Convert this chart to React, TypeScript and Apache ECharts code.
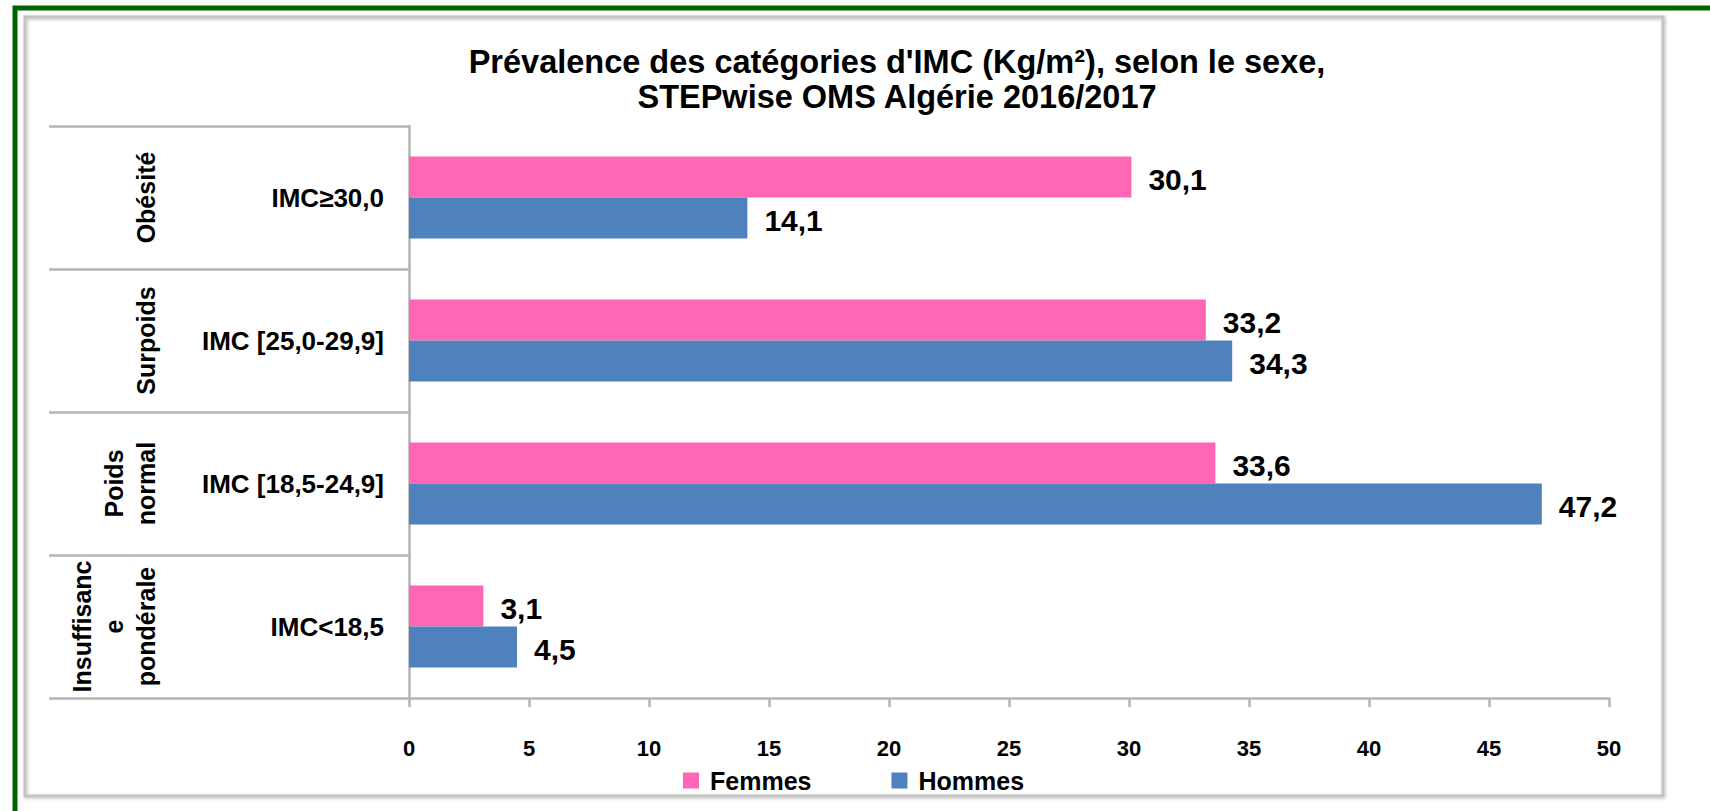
import React, { useEffect, useRef } from "react";
import * as echarts from "echarts";

const innerCategories = ["IMC<18,5", "IMC [18,5-24,9]", "IMC [25,0-29,9]", "IMC≥30,0"];
const outerCategories = ["Insuffisanc\ne\npondérale", "Poids\nnormal", "Surpoids", "Obésité"];
const femmes = [3.1, 33.6, 33.2, 30.1];
const hommes = [4.5, 47.2, 34.3, 14.1];
const titleLines = ["Prévalence des catégories d'IMC (Kg/m²), selon le sexe,", "STEPwise OMS Algérie 2016/2017"];

const FONT = "'Liberation Sans', Arial, sans-serif";
const GRAY = "#b5b5b5";

export default function App() {
  const ref = useRef<HTMLDivElement>(null);
  useEffect(() => {
    if (!ref.current) return;
    const chart = echarts.init(ref.current, null, { renderer: "svg" });
    const label = {
      show: true,
      position: "right",
      distance: 17,
      offset: [0, 2],
      fontFamily: FONT,
      fontWeight: "bold",
      fontSize: 30,
      color: "#000",
      formatter: (p: any) => String(p.value).replace(".", ","),
    };
    chart.setOption({
      animation: false,
      backgroundColor: "#fff",
      title: {
        text: titleLines.join("\n"),
        left: 897,
        top: 44,
        padding: 0,
        textAlign: "center",
        textStyle: { fontFamily: FONT, fontWeight: "bold", fontSize: 32.5, lineHeight: 35, color: "#000" },
      },
      legend: {
        left: 678,
        top: 763,
        itemWidth: 16,
        itemHeight: 16,
        itemGap: 80,
        icon: "rect",
        data: ["Femmes", "Hommes"],
        textStyle: { fontFamily: FONT, fontWeight: "bold", fontSize: 25, color: "#000", padding: [0, 0, 0, 6] },
      },
      graphic: [
        {
          type: "rect",
          silent: true,
          shape: { x: 15, y: 8, width: 1720, height: 820 },
          style: { fill: "none", stroke: "#006400", lineWidth: 5 },
          z: 100,
        },
        {
          type: "rect",
          silent: true,
          shape: { x: 25, y: 17, width: 1638, height: 779 },
          style: { fill: "none", stroke: "#c4c4c4", lineWidth: 3, shadowBlur: 3, shadowColor: "rgba(0,0,0,0.25)", shadowOffsetX: 1, shadowOffsetY: 1 },
          z: 100,
        },
      ],
      grid: { left: 409, right: 101, top: 126, bottom: 113, containLabel: false },
      xAxis: {
        type: "value",
        min: 0,
        max: 50,
        interval: 5,
        splitLine: { show: false },
        axisLine: { show: true, lineStyle: { color: GRAY, width: 2.5 } },
        axisTick: { show: true, length: 9, lineStyle: { color: GRAY, width: 2.5 } },
        axisLabel: { margin: 39, fontFamily: FONT, fontWeight: "bold", fontSize: 22, color: "#000" },
      },
      yAxis: [
        {
          type: "category",
          data: innerCategories,
          position: "left",
          axisLine: { show: true, lineStyle: { color: GRAY, width: 2.5 } },
          axisTick: { show: true, length: 360, interval: 0, lineStyle: { color: GRAY, width: 2.5 } },
          axisLabel: { margin: 25, fontFamily: FONT, fontWeight: "bold", fontSize: 26, color: "#000" },
        },
        {
          type: "category",
          data: outerCategories,
          position: "left",
          offset: 226,
          axisLine: { show: false },
          axisTick: { show: false },
          axisLabel: { rotate: 90, margin: 21, interval: 0, fontFamily: FONT, fontWeight: "bold", fontSize: 25, lineHeight: 32, color: "#000" },
        },
      ],
      series: [
        {
          name: "Femmes",
          type: "bar",
          yAxisIndex: 0,
          data: femmes,
          barWidth: 41,
          barGap: "0%",
          itemStyle: { color: "#ff66b3" },
          label,
        },
        {
          name: "Hommes",
          type: "bar",
          yAxisIndex: 0,
          data: hommes,
          barWidth: 41,
          barGap: "0%",
          itemStyle: { color: "#4f81bd" },
          label,
        },
      ],
    });
    return () => chart.dispose();
  }, []);
  return <div ref={ref} style={{ position: "fixed", left: 0, top: 0, width: 1710, height: 811 }} />;
}
